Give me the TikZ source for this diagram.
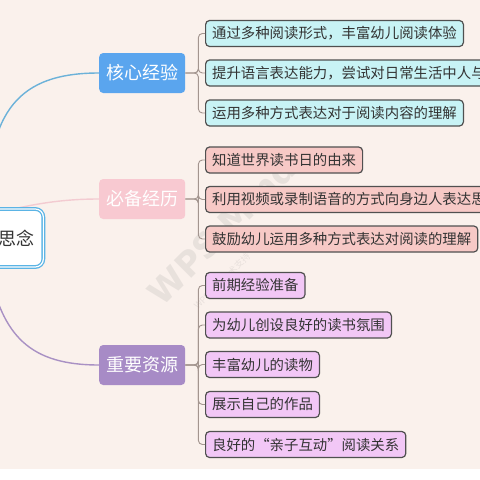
\documentclass[tikz,border=0pt]{standalone}
\usepackage{fontspec}
\setmainfont{Noto Sans CJK SC}
\newfontfamily\wmfont{DejaVu Sans}
\definecolor{bgc}{HTML}{FAF1EC}
\definecolor{bluemain}{HTML}{5AA5EE}
\definecolor{bluecurve}{HTML}{6CB2D9}
\definecolor{pinkmain}{HTML}{F8C9D1}
\definecolor{pinkcurve}{HTML}{F3CBD1}
\definecolor{purmain}{HTML}{A78BC6}
\definecolor{purcurve}{HTML}{A991C4}
\definecolor{cyanchild}{HTML}{C8F3F5}
\definecolor{pinkchild}{HTML}{F7C9C6}
\definecolor{lavchild}{HTML}{F2C7F6}
\definecolor{childborder}{HTML}{505050}
\definecolor{childtext}{HTML}{333333}
\definecolor{rootblue}{HTML}{5BB4E5}
\definecolor{bracket}{HTML}{A3958F}
\pgfdeclarelayer{bottom}
\pgfdeclarelayer{curves}
\pgfsetlayers{bottom,curves,main}
\tikzset{
  mainbox/.style={rectangle, rounded corners=4pt, minimum width=86pt, minimum height=40pt,
    inner xsep=0pt, text=white, font=\fontsize{18pt}{20pt}\selectfont, anchor=west},
  childbox/.style={rectangle, rounded corners=4pt, draw=childborder, line width=1.2pt,
    minimum height=26pt, inner xsep=6.5pt, inner ysep=0pt, text=childtext,
    font=\fontsize{14.4pt}{16pt}\selectfont, anchor=west},
  brk/.style={draw=bracket, line width=0.9pt, rounded corners=4pt},
  curve/.style={line width=1.4pt},
}
\begin{document}
\begin{tikzpicture}[x=1pt,y=-1pt]
\useasboundingbox (0,0) rectangle (480,480);
\clip (0,0) rectangle (480,480);
\begin{pgfonlayer}{bottom}
\fill[bgc] (0,0) rectangle (480,469);
\fill[white] (0,469) rectangle (480,480);
% watermark
\node[rotate=45, text=gray, opacity=0.14, font=\wmfont\bfseries\fontsize{34pt}{36pt}\selectfont] (wm1) at (222,230) {WPS Mind};
\node[rotate=45, text=gray, opacity=0.14, font=\fontsize{9pt}{10pt}\selectfont] (wm2) at (222,281) {WPS 提供技术支持};
\end{pgfonlayer}

% root
\node[rectangle, rounded corners=8pt, draw=rootblue, double=white, double distance=1.2pt,
  line width=1.3pt, fill=white, minimum height=58pt, inner xsep=9pt,
  font=\fontsize{18pt}{20pt}\selectfont, text=childtext, anchor=east] (root) at (44,238) {思念};

% main branches
\node[mainbox, fill=bluemain] (k) at (99,73) {核心经验};
\node[mainbox, fill=pinkmain] (b) at (99,199) {必备经历};
\node[mainbox, fill=purmain] (r) at (99,365) {重要资源};

% curves (behind root)
\begin{pgfonlayer}{curves}
\draw[curve, bluecurve] (root.north west) .. controls (-14,100) and (30,73) .. (k.west);
\draw[curve, pinkcurve] (root.north) .. controls (45,202) and (70,199) .. (b.west);
\draw[curve, purcurve] (root.south west) .. controls (2,336) and (30,365) .. (r.west);
\end{pgfonlayer}

% children of k
\node[childbox, fill=cyanchild] (k1) at (205,33.5) {通过多种阅读形式，丰富幼儿阅读体验};
\node[childbox, fill=cyanchild] (k2) at (205,73) {提升语言表达能力，尝试对日常生活中人与事物的感受};
\node[childbox, fill=cyanchild] (k3) at (205,113) {运用多种方式表达对于阅读内容的理解};

% children of b
\node[childbox, fill=pinkchild] (b1) at (205,160) {知道世界读书日的由来};
\node[childbox, fill=pinkchild] (b2) at (205,199.5) {利用视频或录制语音的方式向身边人表达思想};
\node[childbox, fill=pinkchild] (b3) at (205,239) {鼓励幼儿运用多种方式表达对阅读的理解};

% children of r
\node[childbox, fill=lavchild] (r1) at (205,285.5) {前期经验准备};
\node[childbox, fill=lavchild] (r2) at (205,325) {为幼儿创设良好的读书氛围};
\node[childbox, fill=lavchild] (r3) at (205,364.5) {丰富幼儿的读物};
\node[childbox, fill=lavchild] (r4) at (205,404.5) {展示自己的作品};
\node[childbox, fill=lavchild] (r5) at (205,444.5) {良好的“亲子互动”阅读关系};

% brackets
\foreach \c in {k1,k2,k3} \draw[brk] (k.east) -- ++(13,0) |- (\c.west);
\foreach \c in {b1,b2,b3} \draw[brk] (b.east) -- ++(13,0) |- (\c.west);
\foreach \c in {r1,r2,r3,r4,r5} \draw[brk] (r.east) -- ++(13,0) |- (\c.west);
\end{tikzpicture}
\end{document}
